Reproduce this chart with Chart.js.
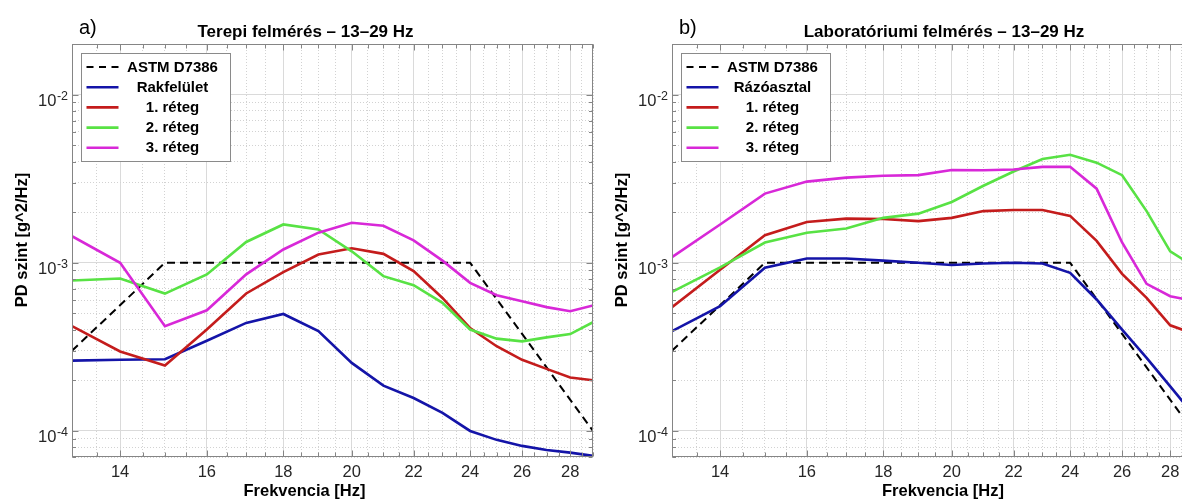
<!DOCTYPE html>
<html>
<head>
<meta charset="utf-8">
<script src="https://cdn.jsdelivr.net/npm/chart.js@4.4.1/dist/chart.umd.min.js"></script>
<style>
  html, body { margin: 0; padding: 0; background: #fff; overflow: hidden; width: 1182px; height: 500px; }
  #wrap { position: relative; width: 1182px; height: 500px; overflow: hidden; }
  #wrap canvas { position: absolute; top: 0; }
  #field { left: 0; }
  #lab { left: 600px; }
</style>
</head>
<body>
<div id="wrap">
  <canvas id="field" width="600" height="500"></canvas>
  <canvas id="lab" width="600" height="500"></canvas>
</div>
<script>
// Frequencies of the measured PSD points [Hz]
const freqHz = [13, 14, 15, 16, 17, 18, 19, 20, 21, 22, 23, 24, 25, 26, 27, 28, 29];

// ASTM D7386 reference profile break points
const astmHz  = [13, 15, 24, 29];
const astmPsd = [3.0e-4, 1.0e-3, 1.0e-3, 1.0e-4];

// a) field survey [g^2/Hz]
const fieldDeck   = [2.62e-4, 2.65e-4, 2.67e-4, 3.44e-4, 4.39e-4, 4.96e-4, 3.92e-4, 2.54e-4, 1.86e-4, 1.57e-4, 1.28e-4, 1.0e-4, 8.85e-5, 8.15e-5, 7.7e-5, 7.43e-5, 7.11e-5];
const fieldLayer1 = [4.2e-4, 2.97e-4, 2.45e-4, 4.01e-4, 6.57e-4, 8.8e-4, 1.12e-3, 1.22e-3, 1.13e-3, 8.92e-4, 6.18e-4, 4.09e-4, 3.19e-4, 2.65e-4, 2.34e-4, 2.08e-4, 2.0e-4];
const fieldLayer2 = [7.85e-4, 8.07e-4, 6.56e-4, 8.53e-4, 1.33e-3, 1.69e-3, 1.58e-3, 1.17e-3, 8.33e-4, 7.36e-4, 5.78e-4, 4.01e-4, 3.54e-4, 3.41e-4, 3.6e-4, 3.77e-4, 4.43e-4];
const fieldLayer3 = [1.44e-3, 1.0e-3, 4.2e-4, 5.22e-4, 8.53e-4, 1.2e-3, 1.51e-3, 1.73e-3, 1.66e-3, 1.36e-3, 1.03e-3, 7.6e-4, 6.41e-4, 5.91e-4, 5.45e-4, 5.15e-4, 5.57e-4];

// b) laboratory survey [g^2/Hz]
const labTable  = [3.92e-4, 5.52e-4, 9.34e-4, 1.06e-3, 1.06e-3, 1.03e-3, 1.0e-3, 9.7e-4, 9.9e-4, 1.0e-3, 9.9e-4, 8.72e-4, 6.05e-4, 4.0e-4, 2.72e-4, 1.84e-4, 1.26e-4];
const labLayer1 = [5.44e-4, 9.1e-4, 1.46e-3, 1.75e-3, 1.83e-3, 1.82e-3, 1.77e-3, 1.85e-3, 2.03e-3, 2.06e-3, 2.06e-3, 1.9e-3, 1.35e-3, 8.6e-4, 6.18e-4, 4.25e-4, 3.8e-4];
const labLayer2 = [6.71e-4, 9.4e-4, 1.32e-3, 1.51e-3, 1.6e-3, 1.85e-3, 1.96e-3, 2.3e-3, 2.87e-3, 3.49e-3, 4.14e-3, 4.39e-3, 3.94e-3, 3.32e-3, 2.03e-3, 1.17e-3, 9.6e-4];
const labLayer3 = [1.08e-3, 1.69e-3, 2.58e-3, 3.04e-3, 3.21e-3, 3.29e-3, 3.32e-3, 3.56e-3, 3.55e-3, 3.59e-3, 3.72e-3, 3.72e-3, 2.76e-3, 1.32e-3, 7.5e-4, 6.33e-4, 5.95e-4];

// Axis ticks
const xTickLabels = [14, 16, 18, 20, 22, 24, 26, 28];
const xGridStepHz = 0.5;
const yDecades = [-4, -3, -2];

const FONT = '"Liberation Sans", Arial, Helvetica, sans-serif';
const COLORS = { astm: '#000000', base: '#1414a8', l1: '#c41c1c', l2: '#58e244', l3: '#d828d8' };

function pts(xs, ys) { return xs.map((x, i) => ({ x: x, y: ys[i] })); }

function datasets(baseLabel, base, l1, l2, l3) {
  const solid = (label, data, color, order) => ({
    label, data: pts(freqHz, data), borderColor: color, backgroundColor: color,
    borderWidth: 2.6, pointRadius: 0, tension: 0, order
  });
  return [
    { label: 'ASTM D7386', data: pts(astmHz, astmPsd), borderColor: COLORS.astm, backgroundColor: COLORS.astm,
      borderWidth: 2, borderDash: [8, 5], pointRadius: 0, tension: 0, order: 5 },
    solid(baseLabel, base, COLORS.base, 4),
    solid('1. réteg', l1, COLORS.l1, 3),
    solid('2. réteg', l2, COLORS.l2, 2),
    solid('3. réteg', l3, COLORS.l3, 1)
  ];
}

// Box, inward tick marks, 10^n labels, legend and captions
const decor = {
  id: 'decor',
  afterDraw(chart, args, o) {
    const { ctx, chartArea: a } = chart;
    const xs = chart.scales.x, ys = chart.scales.y;
    const L = Math.round(a.left) + 0.5, R = Math.round(a.right) - 0.5;
    const T = Math.round(a.top) + 0.5, B = Math.round(a.bottom) - 0.5;
    ctx.save();

    // axes box and ticks
    ctx.strokeStyle = '#858585';
    ctx.lineWidth = 1;
    ctx.setLineDash([]);
    ctx.beginPath();
    xs.ticks.forEach(t => {
      const p = Math.round(xs.getPixelForValue(t.value)) + 0.5;
      const len = t.major ? 6 : 4;
      ctx.moveTo(p, B); ctx.lineTo(p, B - len);
      ctx.moveTo(p, T); ctx.lineTo(p, T + len);
    });
    ys.ticks.forEach(t => {
      const p = Math.round(ys.getPixelForValue(t.value)) + 0.5;
      const len = t.major ? 6 : 3.5;
      ctx.moveTo(L, p); ctx.lineTo(L + len, p);
      ctx.moveTo(R, p); ctx.lineTo(R - len, p);
    });
    ctx.stroke();
    ctx.strokeRect(L, T, R - L, B - T);

    // y tick labels as 10 with superscript exponent
    ctx.fillStyle = '#262626';
    ctx.textBaseline = 'alphabetic';
    ctx.textAlign = 'right';
    yDecades.forEach(e => {
      const py = ys.getPixelForValue(Math.pow(10, e));
      const right = a.left - 4;
      ctx.font = '12.5px ' + FONT;
      const ex = String(e);
      const w = ctx.measureText(ex).width;
      ctx.fillText(ex, right, py + 5.3);
      ctx.font = '16.5px ' + FONT;
      ctx.fillText('10', right - w - 0.5, py + 11.3);
    });

    // legend
    const lg = o.legend;
    ctx.fillStyle = '#ffffff';
    ctx.fillRect(lg.x, lg.y, lg.w, lg.h);
    ctx.strokeStyle = '#8a8a8a';
    ctx.lineWidth = 1;
    ctx.strokeRect(lg.x + 0.5, lg.y + 0.5, lg.w, lg.h);
    chart.data.datasets.forEach((ds, i) => {
      const ry = lg.row0 + i * lg.step;
      ctx.strokeStyle = ds.borderColor;
      ctx.lineWidth = ds.borderDash ? 2 : 2.6;
      ctx.setLineDash(ds.borderDash ? [7, 5.5] : []);
      ctx.beginPath();
      ctx.moveTo(lg.x + 5.5, ry);
      ctx.lineTo(lg.x + 37.5, ry);
      ctx.stroke();
      ctx.setLineDash([]);
      ctx.fillStyle = '#000';
      ctx.font = 'bold 15px ' + FONT;
      ctx.textAlign = 'center';
      ctx.textBaseline = 'middle';
      ctx.fillText(ds.label, lg.x + 91.5, ry + 0.5);
    });

    // panel letter, title and axis captions
    ctx.fillStyle = '#000';
    ctx.textBaseline = 'alphabetic';
    ctx.textAlign = 'left';
    ctx.font = '20px ' + FONT;
    ctx.fillText(o.letter, 79, 34);
    ctx.textAlign = 'center';
    ctx.font = 'bold 17px ' + FONT;
    ctx.fillText(o.title, o.captionX, 37);
    ctx.font = 'bold 16.5px ' + FONT;
    ctx.fillText('Frekvencia [Hz]', o.captionX - 1, 496);
    ctx.save();
    ctx.translate(26.7, 240);
    ctx.rotate(-Math.PI / 2);
    ctx.fillText('PD szint [g^2/Hz]', 0, 0);
    ctx.restore();

    ctx.restore();
  }
};

function makeChart(id, dsets, letter, title, captionX) {
  return new Chart(document.getElementById(id), {
    type: 'line',
    data: { datasets: dsets },
    plugins: [decor],
    options: {
      responsive: false,
      animation: false,
      devicePixelRatio: 1,
      layout: { padding: { left: 72, top: 44, right: 7, bottom: 0 } },
      plugins: {
        legend: { display: false },
        tooltip: { enabled: false },
        title: { display: false },
        decor: {
          letter, title, captionX,
          legend: { x: 81, y: 53, w: 149, h: 108, row0: 67, step: 20.2 }
        }
      },
      scales: {
        x: {
          type: 'logarithmic',
          position: 'bottom',
          min: 13, max: 29,
          afterBuildTicks(scale) {
            const t = [];
            for (let f = scale.min; f <= scale.max + 1e-9; f += xGridStepHz) {
              t.push({ value: f, major: xTickLabels.includes(f) });
            }
            scale.ticks = t;
          },
          afterFit(scale) { scale.height = 43; },
          grid: {
            drawTicks: false,
            lineWidth: 1,
            color: ctx => (ctx.tick && ctx.tick.major) ? '#dadada' : '#d2d2d2'
          },
          border: {
            display: false,
            dash: ctx => (ctx.tick && ctx.tick.major) ? [] : [1, 2]
          },
          ticks: {
            autoSkip: false, maxRotation: 0, minRotation: 0, padding: 6,
            color: '#262626',
            font: { family: FONT, size: 16.5, lineHeight: 1.2 },
            callback: (v, i, ticks) => xTickLabels.includes(ticks[i].value) ? String(ticks[i].value) : ''
          }
        },
        y: {
          type: 'logarithmic',
          position: 'left',
          min: 7e-5, max: 2e-2,
          afterBuildTicks(scale) {
            const t = [];
            for (let e = -5; e <= -1; e++) {
              for (let m = 1; m <= 9; m++) {
                const v = m * Math.pow(10, e);
                if (v >= scale.min * 0.999 && v <= scale.max * 1.001) t.push({ value: v, major: m === 1 });
              }
            }
            scale.ticks = t;
          },
          afterFit(scale) { scale.width = 0; },
          grid: {
            drawTicks: false,
            lineWidth: 1,
            color: ctx => (ctx.tick && ctx.tick.major) ? '#dadada' : '#d2d2d2'
          },
          border: {
            display: false,
            dash: ctx => (ctx.tick && ctx.tick.major) ? [] : [1, 2]
          },
          ticks: { display: false }
        }
      }
    }
  });
}

makeChart('field', datasets('Rakfelület', fieldDeck, fieldLayer1, fieldLayer2, fieldLayer3),
  'a)', 'Terepi felmérés – 13–29 Hz', 305.5);
makeChart('lab', datasets('Rázóasztal', labTable, labLayer1, labLayer2, labLayer3),
  'b)', 'Laboratóriumi felmérés – 13–29 Hz', 344);
</script>
</body>
</html>
